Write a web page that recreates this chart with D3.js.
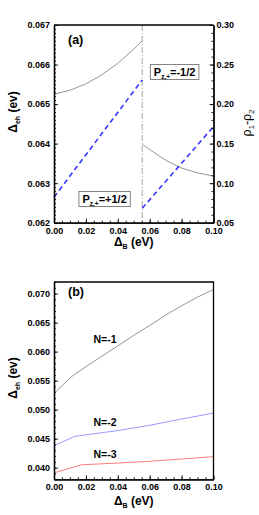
<!DOCTYPE html>
<html>
<head>
<meta charset="utf-8">
<script src="https://cdn.jsdelivr.net/npm/d3@7"></script>
<style>
body { margin: 0; background: #fff; }
svg { display: block; font-family: 'Liberation Sans', Arial, sans-serif; }
</style>
</head>
<body>
<div id="chart"></div>
<script>
// ---- panel (a) ----
var aSwitchX = 0.0553;
var aLeftX = [0, 0.01, 0.02, 0.03, 0.04, 0.05, 0.0553];
var aLeftEh = [0.06525, 0.06535, 0.06551, 0.06574, 0.06603, 0.06639, 0.0666];
var aRightX = [0.0553, 0.06, 0.07, 0.08, 0.09, 0.10];
var aRightEh = [0.06398, 0.06385, 0.06358, 0.06338, 0.06326, 0.06318];
var aRhoLeftX = [0, 0.0553];
var aRhoLeft = [0.0822, 0.2306];
var aRhoRightX = [0.0553, 0.10];
var aRhoRight = [0.0682, 0.1715];
var aEhTicks = [0.062, 0.063, 0.064, 0.065, 0.066, 0.067];
var aRhoTicks = [0.05, 0.10, 0.15, 0.20, 0.25, 0.30];

// ---- panel (b) ----
var bN1X = [0, 0.011, 0.02, 0.03, 0.04, 0.05, 0.06, 0.07, 0.08, 0.09, 0.10];
var bN1 = [0.0528, 0.0557, 0.0574, 0.0592, 0.0610, 0.0628, 0.0645, 0.0663, 0.0679, 0.0694, 0.0707];
var bN2X = [0, 0.013, 0.04, 0.06, 0.08, 0.10];
var bN2 = [0.0438, 0.0454, 0.0464, 0.0473, 0.0484, 0.0494];
var bN3X = [0, 0.017, 0.04, 0.06, 0.08, 0.10];
var bN3 = [0.0391, 0.0405, 0.0408, 0.0411, 0.0415, 0.0419];
var bEhTicks = [0.040, 0.045, 0.050, 0.055, 0.060, 0.065, 0.070];

var xTicks = [0, 0.02, 0.04, 0.06, 0.08, 0.10];

var svg = d3.select('#chart')
    .append('svg')
    .attr('width', 259)
    .attr('height', 515);

var x = d3.scaleLinear()
    .domain([0, 0.1])
    .range([54, 213.5]);

function minorTicks(lo, hi, step) {
    return d3.range(Math.round((hi - lo) / step) + 1).map(i => lo + i * step);
}

function styleAxis(g) {
    g.select('.domain').attr('stroke', '#000').attr('stroke-width', 1.3);
    g.selectAll('.tick line').attr('stroke', '#000').attr('stroke-width', 0.9);
    g.selectAll('.tick text')
        .attr('font-size', 9)
        .attr('font-weight', 'bold')
        .attr('font-family', "'Liberation Sans', Arial, sans-serif")
        .attr('fill', '#000');
}

function xAxis(y0, gap) {
    svg.append('g')
        .attr('transform', `translate(0,${y0})`)
        .call(d3.axisBottom(x).tickValues(minorTicks(0, 0.1, 0.005))
            .tickSize(-2).tickSizeOuter(0).tickFormat(''))
        .call(styleAxis);
    svg.append('g')
        .attr('transform', `translate(0,${y0})`)
        .call(d3.axisBottom(x).tickValues(xTicks)
            .tickSize(-4).tickSizeOuter(0).tickPadding(gap).tickFormat(d3.format('.2f')))
        .call(styleAxis);
}

function line(xs, ys, yScale) {
    return d3.line()
        .x(d => x(d[0]))
        .y(d => yScale(d[1]))(d3.zip(xs, ys));
}

function deltaTitle(g, sub, rest) {
    g.append('tspan').text('\u0394');
    g.append('tspan').attr('font-size', 7).attr('dy', 3).text(sub);
    g.append('tspan').attr('dy', -3).text(rest);
}

function panelA() {
    var top = 25, bottom = 222.7;
    var yEh = d3.scaleLinear().domain([0.062, 0.067]).range([bottom, top]);
    var yRho = d3.scaleLinear().domain([0.05, 0.30]).range([bottom, top]);

    // data first, frame on top
    svg.append('line')
        .attr('x1', x(aSwitchX)).attr('x2', x(aSwitchX))
        .attr('y1', top).attr('y2', bottom)
        .attr('stroke', '#9a9a9a')
        .attr('stroke-width', 0.9)
        .attr('stroke-dasharray', '6,2,1,2');

    [[aLeftX, aLeftEh], [aRightX, aRightEh]].forEach(s => {
        svg.append('path')
            .attr('d', line(s[0], s[1], yEh))
            .attr('fill', 'none')
            .attr('stroke', '#8a8a8a')
            .attr('stroke-width', 0.9);
    });
    [[aRhoLeftX, aRhoLeft], [aRhoRightX, aRhoRight]].forEach(s => {
        svg.append('path')
            .attr('d', line(s[0], s[1], yRho))
            .attr('fill', 'none')
            .attr('stroke', '#3535ff')
            .attr('stroke-width', 1.6)
            .attr('stroke-dasharray', '5,3.5');
    });

    svg.append('line')
        .attr('x1', x(0)).attr('x2', x(0.1))
        .attr('y1', top).attr('y2', top)
        .attr('stroke', '#000').attr('stroke-width', 1.3);

    xAxis(bottom, 5);

    svg.append('g')
        .attr('transform', `translate(${x(0)},0)`)
        .call(d3.axisLeft(yEh).tickValues(minorTicks(0.062, 0.067, 0.0001))
            .tickSize(-2).tickSizeOuter(0).tickFormat(''))
        .call(styleAxis);
    svg.append('g')
        .attr('transform', `translate(${x(0)},0)`)
        .call(d3.axisLeft(yEh).tickValues(aEhTicks)
            .tickSize(-4).tickSizeOuter(0).tickPadding(4).tickFormat(d3.format('.3f')))
        .call(styleAxis);

    svg.append('g')
        .attr('transform', `translate(${x(0.1)},0)`)
        .call(d3.axisRight(yRho).tickValues(minorTicks(0.05, 0.30, 0.01))
            .tickSize(-2).tickSizeOuter(0).tickFormat(''))
        .call(styleAxis);
    svg.append('g')
        .attr('transform', `translate(${x(0.1)},0)`)
        .call(d3.axisRight(yRho).tickValues(aRhoTicks)
            .tickSize(-4).tickSizeOuter(0).tickPadding(3).tickFormat(d3.format('.2f')))
        .call(styleAxis);

    svg.append('text')
        .attr('x', 68).attr('y', 44)
        .attr('font-size', 12.5).attr('font-weight', 'bold')
        .text('(a)');

    // P_{z,+} boxes
    function pBox(cx, baseline, value) {
        var g = svg.append('g');
        var t = g.append('text')
            .attr('x', cx).attr('y', baseline)
            .attr('text-anchor', 'middle')
            .attr('font-size', 11).attr('font-weight', 'bold');
        t.append('tspan').text('P');
        t.append('tspan').attr('font-size', 6.5).attr('dy', 2.5).text('z,+');
        t.append('tspan').attr('dy', -2.5).text('=' + value);
        var b = t.node().getBBox();
        g.insert('rect', 'text')
            .attr('x', b.x - 3.5).attr('y', baseline - 11.5)
            .attr('width', b.width + 7).attr('height', 15)
            .attr('fill', '#fff')
            .attr('stroke', '#777').attr('stroke-width', 0.9);
    }
    pBox(174.6, 76, '-1/2');
    pBox(104.6, 203, '+1/2');

    var t = svg.append('text')
        .attr('transform', 'translate(17,112) rotate(-90)')
        .attr('text-anchor', 'middle')
        .attr('font-size', 12).attr('font-weight', 'bold');
    deltaTitle(t, 'eh', ' (ev)');

    var r = svg.append('text')
        .attr('transform', 'translate(251,123) rotate(-90)')
        .attr('text-anchor', 'middle')
        .attr('font-size', 12.5);
    r.append('tspan').text('\u03c1');
    r.append('tspan').attr('font-size', 7.5).attr('dy', 3).text('1');
    r.append('tspan').attr('dy', -3).text('-\u03c1');
    r.append('tspan').attr('font-size', 7.5).attr('dy', 3).text('2');

    var xt = svg.append('text')
        .attr('x', (x(0) + x(0.1)) / 2).attr('y', 246)
        .attr('text-anchor', 'middle')
        .attr('font-size', 12).attr('font-weight', 'bold');
    deltaTitle(xt, 'B', ' (eV)');
}

function panelB() {
    var top = 282, bottom = 479.3;
    var yEh = d3.scaleLinear().domain([0.038, 0.072]).range([bottom, top]);

    [[bN1X, bN1, '#8a8a8a'], [bN2X, bN2, '#8c8cff'], [bN3X, bN3, '#ff6b6b']].forEach(s => {
        svg.append('path')
            .attr('d', line(s[0], s[1], yEh))
            .attr('fill', 'none')
            .attr('stroke', s[2])
            .attr('stroke-width', 0.9);
    });

    svg.append('path')
        .attr('d', `M${x(0)},${top}H${x(0.1)}V${bottom}`)
        .attr('fill', 'none')
        .attr('stroke', '#000').attr('stroke-width', 1.3);

    xAxis(bottom, 4);

    svg.append('g')
        .attr('transform', `translate(${x(0)},0)`)
        .call(d3.axisLeft(yEh).tickValues(minorTicks(0.038, 0.072, 0.001))
            .tickSize(-2).tickSizeOuter(0).tickFormat(''))
        .call(styleAxis);
    svg.append('g')
        .attr('transform', `translate(${x(0)},0)`)
        .call(d3.axisLeft(yEh).tickValues(bEhTicks)
            .tickSize(-4).tickSizeOuter(0).tickPadding(4).tickFormat(d3.format('.3f')))
        .call(styleAxis);

    svg.append('text')
        .attr('x', 68).attr('y', 296)
        .attr('font-size', 12.5).attr('font-weight', 'bold')
        .text('(b)');

    [['N=-1', 343], ['N=-2', 425.5], ['N=-3', 458]].forEach(d => {
        svg.append('text')
            .attr('x', 93.5).attr('y', d[1])
            .attr('font-size', 10.5).attr('font-weight', 'bold')
            .text(d[0]);
    });

    var t = svg.append('text')
        .attr('transform', 'translate(17,378) rotate(-90)')
        .attr('text-anchor', 'middle')
        .attr('font-size', 12).attr('font-weight', 'bold');
    deltaTitle(t, 'eh', ' (ev)');

    var xt = svg.append('text')
        .attr('x', (x(0) + x(0.1)) / 2).attr('y', 505)
        .attr('text-anchor', 'middle')
        .attr('font-size', 12).attr('font-weight', 'bold');
    deltaTitle(xt, 'B', ' (eV)');
}

panelA();
panelB();
</script>
</body>
</html>
